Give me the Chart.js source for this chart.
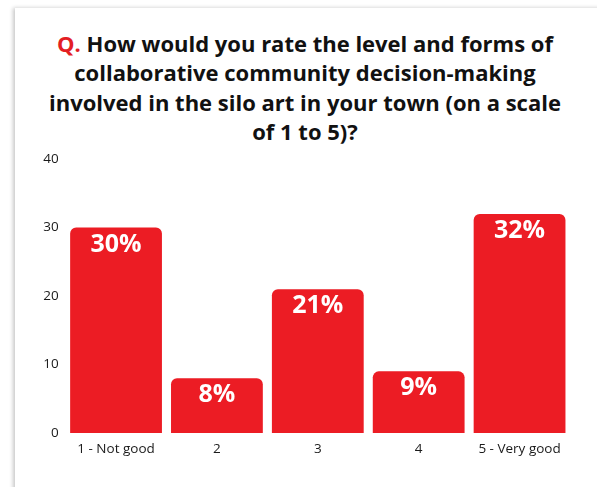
<!DOCTYPE html>
<html>
<head>
<meta charset="utf-8">
<script src="https://cdn.jsdelivr.net/npm/chart.js@4.4.1/dist/chart.umd.min.js"></script>
<style>
  html, body { margin: 0; padding: 0; background: #fff; width: 597px; height: 487px; overflow: hidden; }
  .card {
    position: absolute; left: 15px; top: 8px; width: 600px; height: 500px;
    background: #fff; box-shadow: -2px 0 4px rgba(0,0,0,0.22);
  }
  .title {
    position: absolute; left: 25px; top: 21px; width: 530px; text-align: center;
    font-family: "Open Sans", sans-serif; font-weight: 700; font-size: 22px; line-height: 29.3px;
    color: #111;
  }
  .title .q { color: #e31e24; }
  .wrap { position: absolute; left: 0; top: 136px; width: 570px; height: 340px; }
</style>
</head>
<body>
<div class="card">
  <div class="title"><span class="q">Q.</span> How would you rate the level and forms of collaborative community decision-making involved in the silo art in your town (on a scale of 1 to 5)?</div>
  <div class="wrap"><canvas id="c"></canvas></div>
</div>
<script>
const categories = ["1 - Not good", "2", "3", "4", "5 - Very good"];
const percentages = [30, 8, 21, 9, 32];
const yTicks = [0, 10, 20, 30, 40];

const barRed = "#ec1c24";
const tickFont = { family: "'Open Sans', sans-serif", size: 13.5 };

// white percentage labels just inside the top of each bar
const valueLabels = {
  id: "valueLabels",
  afterDatasetsDraw(chart) {
    const ctx = chart.ctx;
    const meta = chart.getDatasetMeta(0);
    ctx.save();
    ctx.fillStyle = "#fff";
    ctx.font = "700 25px 'Open Sans', sans-serif";
    ctx.textAlign = "center";
    ctx.textBaseline = "middle";
    meta.data.forEach((bar, i) => {
      ctx.fillText(percentages[i] + "%", bar.x, bar.y + 17);
    });
    ctx.restore();
  }
};

new Chart(document.getElementById("c"), {
  type: "bar",
  data: {
    labels: categories,
    datasets: [{
      data: percentages,
      backgroundColor: barRed,
      borderRadius: { topLeft: 6, topRight: 6, bottomLeft: 0, bottomRight: 0 },
      borderSkipped: false,
      barPercentage: 0.91,
      categoryPercentage: 1
    }]
  },
  options: {
    responsive: true,
    maintainAspectRatio: false,
    animation: false,
    layout: { padding: { left: 15, right: 15, top: 12, bottom: 21 } },
    plugins: { legend: { display: false }, tooltip: { enabled: false } },
    scales: {
      x: {
        grid: { display: false, drawTicks: false },
        border: { display: false },
        ticks: { color: "#1a1a1a", font: tickFont, padding: 8 },
        afterFit(s) { s.height = 30; }
      },
      y: {
        min: 0, max: 40,
        grid: { display: false, drawTicks: false },
        border: { display: false },
        afterBuildTicks(s) { s.ticks = yTicks.map(v => ({ value: v })); },
        ticks: { color: "#1a1a1a", font: tickFont, padding: 7 },
        afterFit(s) { s.width = 35.6; }
      }
    }
  },
  plugins: [valueLabels]
});
</script>
</body>
</html>
